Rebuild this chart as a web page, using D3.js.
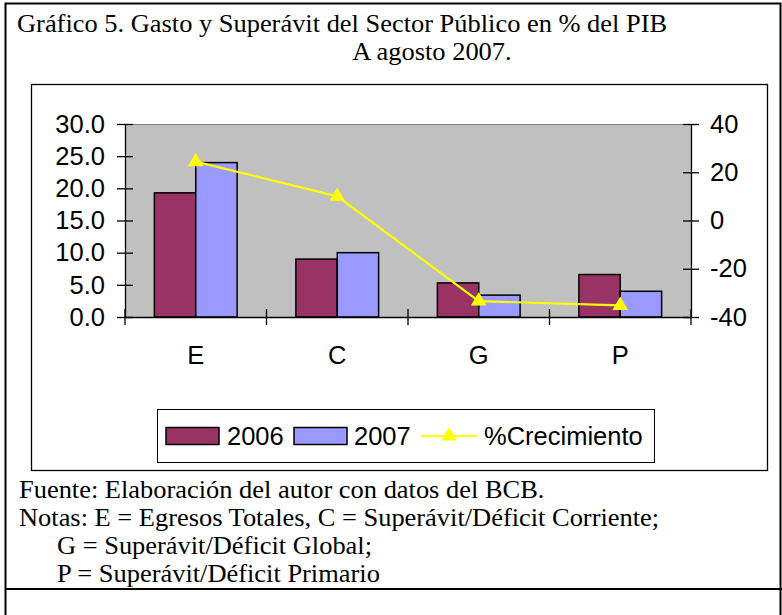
<!DOCTYPE html>
<html>
<head>
<meta charset="utf-8">
<script src="https://cdn.jsdelivr.net/npm/d3@7"></script>
<style>
  html, body { margin: 0; padding: 0; background: #fff; }
  svg { display: block; }
</style>
</head>
<body>
<svg id="chart" width="782" height="615"></svg>
<script>
// ---- Data ----
const categories = ["E", "C", "G", "P"];
const values2006 = [19.3, 9.0, 5.3, 6.6];
const values2007 = [24.0, 10.0, 3.4, 4.0];
const growth = [24.4, 10.0, -33.4, -35.2];
const leftTicks = [0, 5, 10, 15, 20, 25, 30];
const rightTicks = [-40, -20, 0, 20, 40];
const seriesNames = ["2006", "2007", "%Crecimiento"];
const titleLines = ["Gráfico 5. Gasto y Superávit del Sector Público en % del PIB", "A agosto 2007."];
const noteLines = [
  "Fuente: Elaboración del autor con datos del BCB.",
  "Notas: E = Egresos Totales, C = Superávit/Déficit Corriente;",
  "G = Superávit/Déficit Global;",
  "P = Superávit/Déficit Primario"
];

const svg = d3.select("#chart");
const serif = "'Liberation Serif', 'Times New Roman', serif";
const sans = "'Liberation Sans', Arial, sans-serif";
const col2006 = "#993366", col2007 = "#9999FF", colLine = "#FFFF00";
const serifSize = 24.6, serifStretch = 1.075, sansSize = 25.5;

// outer frame
svg.append("path")
  .attr("d", "M5.5,615 V3.5 H780.5 V615")
  .attr("fill", "none").attr("stroke", "#000").attr("stroke-width", 2);
svg.append("line").attr("x1", 5).attr("x2", 782).attr("y1", 589).attr("y2", 589)
  .attr("stroke", "#000").attr("stroke-width", 2);

function serifText(tx, ty, t, anchor) {
  svg.append("text")
    .attr("transform", `translate(${tx},${ty}) scale(${serifStretch},1)`)
    .attr("text-anchor", anchor || "start")
    .attr("font-family", serif).attr("font-size", serifSize).text(t);
}

// title
serifText(17, 32, titleLines[0]);
serifText(432, 60, titleLines[1], "middle");

// inner chart box
svg.append("rect").attr("x", 31.5).attr("y", 84.5).attr("width", 736).attr("height", 386)
  .attr("fill", "#fff").attr("stroke", "#000").attr("stroke-width", 1.3);

// plot area
const px0 = 125, px1 = 691, py0 = 124, py1 = 317;
const x = d3.scaleBand().domain(categories).range([px0, px1]).paddingInner(0).paddingOuter(0);
const xs = d3.scaleBand().domain(["2006", "2007"]).range([0, x.bandwidth()]).paddingInner(0).paddingOuter(0.71);
const yL = d3.scaleLinear().domain([0, 30]).range([py1, py0]);
const yR = d3.scaleLinear().domain([-40, 40]).range([py1, py0]);

svg.append("rect").attr("x", px0).attr("y", py0).attr("width", px1 - px0).attr("height", py1 - py0)
  .attr("fill", "#C0C0C0");
svg.append("line").attr("x1", px0).attr("x2", px1).attr("y1", py0 + 0.5).attr("y2", py0 + 0.5)
  .attr("stroke", "#808080").attr("stroke-width", 1);

// bars
const bars = categories.map((c, i) => ({ c, a: values2006[i], b: values2007[i] }));
const g = svg.append("g");
g.selectAll("rect.b6").data(bars).join("rect").attr("class", "b6")
  .attr("x", d => x(d.c) + xs("2006")).attr("width", xs.bandwidth())
  .attr("y", d => yL(d.a)).attr("height", d => yL(0) - yL(d.a))
  .attr("fill", col2006).attr("stroke", "#000").attr("stroke-width", 1.5);
g.selectAll("rect.b7").data(bars).join("rect").attr("class", "b7")
  .attr("x", d => x(d.c) + xs("2007")).attr("width", xs.bandwidth())
  .attr("y", d => yL(d.b)).attr("height", d => yL(0) - yL(d.b))
  .attr("fill", col2007).attr("stroke", "#000").attr("stroke-width", 1.5);

// axes
const axL = d3.axisLeft(yL).tickValues(leftTicks).tickFormat(d3.format(".1f")).tickSizeInner(8).tickSizeOuter(0).tickPadding(12);
const gL = svg.append("g").attr("transform", `translate(${px0},0)`).call(axL);
const axR = d3.axisRight(yR).tickValues(rightTicks).tickFormat(d => d).tickSizeInner(8).tickSizeOuter(0).tickPadding(12);
const gR = svg.append("g").attr("transform", `translate(${px1},0)`).call(axR);
const axB = d3.axisBottom(x).tickSize(0).tickPadding(29);
const gB = svg.append("g").attr("transform", `translate(0,${py1})`).call(axB);
[gL, gR, gB].forEach(a => {
  a.select(".domain").attr("stroke", "#000").attr("stroke-width", 1.3);
  a.selectAll("text").attr("font-family", sans).attr("font-size", sansSize).attr("fill", "#000");
  a.selectAll(".tick line").attr("stroke", "#000").attr("stroke-width", 1.3);
});
// crossing ticks
gL.selectAll(".tick line").attr("x1", 8).attr("x2", -8);
gR.selectAll(".tick line").attr("x1", -8).attr("x2", 8);
gL.selectAll("text").attr("x", -20);
gR.selectAll("text").attr("x", 19);
// category boundary ticks
const bounds = categories.map(c => x(c)).concat([px1]);
svg.append("g").selectAll("line").data(bounds).join("line")
  .attr("x1", d => d).attr("x2", d => d).attr("y1", py1 - 8).attr("y2", py1 + 8)
  .attr("stroke", "#000").attr("stroke-width", 1.3);

// growth line
const pts = categories.map((c, i) => [x(c) + x.bandwidth() / 2, yR(growth[i])]);
svg.append("path").attr("d", d3.line()(pts)).attr("fill", "none")
  .attr("stroke", colLine).attr("stroke-width", 2.2);
const tri = d3.symbol().type(d3.symbolTriangle).size(105);
svg.append("g").selectAll("path").data(pts).join("path")
  .attr("transform", d => `translate(${d[0]},${d[1]})`).attr("d", tri).attr("fill", colLine);

// legend
svg.append("rect").attr("x", 157.5).attr("y", 409.5).attr("width", 497).attr("height", 53)
  .attr("fill", "#fff").attr("stroke", "#000").attr("stroke-width", 1);
const ly = 436;
svg.append("rect").attr("x", 166).attr("y", ly - 8.5).attr("width", 53).attr("height", 17)
  .attr("fill", col2006).attr("stroke", "#000").attr("stroke-width", 1.5);
svg.append("text").attr("x", 227).attr("y", ly + 9).attr("font-family", sans).attr("font-size", sansSize).text(seriesNames[0]);
svg.append("rect").attr("x", 294).attr("y", ly - 8.5).attr("width", 53).attr("height", 17)
  .attr("fill", col2007).attr("stroke", "#000").attr("stroke-width", 1.5);
svg.append("text").attr("x", 354).attr("y", ly + 9).attr("font-family", sans).attr("font-size", sansSize).text(seriesNames[1]);
svg.append("line").attr("x1", 421).attr("x2", 477).attr("y1", ly).attr("y2", ly)
  .attr("stroke", colLine).attr("stroke-width", 2.2);
svg.append("path").attr("transform", `translate(449,${ly})`).attr("d", tri).attr("fill", colLine);
svg.append("text").attr("x", 484).attr("y", ly + 9).attr("font-family", sans).attr("font-size", sansSize).text(seriesNames[2]);

// notes
const noteX = [19, 19, 57, 57];
const noteY = [498, 526, 554, 582];
noteLines.forEach((t, i) => serifText(noteX[i], noteY[i], t));
</script>
</body>
</html>
